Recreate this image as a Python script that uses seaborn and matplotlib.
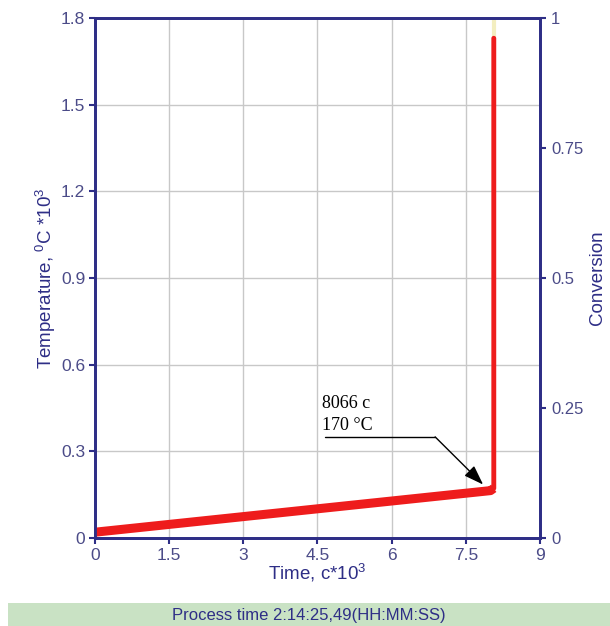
import matplotlib
matplotlib.use("Agg")
import matplotlib.pyplot as plt
import seaborn as sns
import pandas as pd

sns.set_theme(style="white")
plt.rcParams['font.family'] = ['Liberation Sans Narrow', 'Liberation Sans', 'DejaVu Sans']
plt.rcParams['mathtext.fontset'] = 'custom'
plt.rcParams['mathtext.rm'] = 'Liberation Sans'

# Data (time in s*10^3, temperature in °C*10^3)
time = [0.0, 1.0, 2.0, 3.0, 4.0, 5.0, 6.0, 7.0, 7.5, 8.0, 8.066, 8.066]
temperature = [0.020, 0.038, 0.056, 0.074, 0.092, 0.110, 0.128, 0.146, 0.155, 0.164, 0.172, 1.73]
x_ticks = [0, 1.5, 3, 4.5, 6, 7.5, 9]
y_ticks = [0, 0.3, 0.6, 0.9, 1.2, 1.5, 1.8]
y_tick_labels = ["0", "0.3", "0.6", "0.9", "1.2", "1.5", "1.8"]
conv_ticks = [0, 0.25, 0.5, 0.75, 1]
conv_labels = ["0", "0.25", "0.5", "0.75", "1"]
annot_time = 8066
annot_temp = 170

navy = "#2e2e86"
tick_col = "#4b4b88"

df = pd.DataFrame({"time": time, "temperature": temperature})
df_low = df.iloc[:-1]

fig = plt.figure(figsize=(6.10, 6.26), dpi=100)
fig.patch.set_facecolor("white")
ax = fig.add_axes([0.1557, 0.1406, 0.7295, 0.8306])

sns.lineplot(data=df, x="time", y="temperature", ax=ax, color="#ee1c1c", lw=3.5,
             sort=False, estimator=None, zorder=3)
sns.lineplot(data=df_low, x="time", y="temperature", ax=ax, color="#ee1c1c", lw=6.5,
             sort=False, estimator=None, solid_capstyle="butt", zorder=3)
ax.plot([time[-1], time[-1]], [temperature[-1], 1.8], color="#f3eec0", lw=3, zorder=2)

ax.set_xlim(0, 9)
ax.set_ylim(0, 1.8)
ax.set_xticks(x_ticks)
ax.set_xticklabels([f"{t:g}" for t in x_ticks])
ax.set_yticks(y_ticks)
ax.set_yticklabels(y_tick_labels)
ax.grid(True, color="#c8c8c8", lw=1)
ax.set_axisbelow(True)

for s in ax.spines.values():
    s.set_color(navy)
    s.set_linewidth(2)

ax.tick_params(axis="both", direction="out", length=4, width=1.5, color=navy,
               labelcolor=tick_col, labelsize=12.5, bottom=True, left=True, pad=3)

ax.set_xlabel("Time, c*10$^{3}$", color=navy, fontsize=13.5, labelpad=-1)
ax.set_ylabel("Temperature, $^{0}$C *10$^{3}$", color=navy, fontsize=13.5, labelpad=2)

ax2 = ax.twinx()
ax2.set_ylim(0, 1)
ax2.set_yticks(conv_ticks)
ax2.set_yticklabels(conv_labels)
ax2.tick_params(axis="y", direction="out", length=4, width=1.5, color=navy,
                labelcolor=tick_col, labelsize=12, right=True, pad=4)
for s in ax2.spines.values():
    s.set_color(navy)
    s.set_linewidth(2)
ax2.set_ylabel("Conversion", color=navy, fontsize=13.5, labelpad=4)
ax2.grid(False)

# Annotation
ax.text(4.6, 0.435, f"{annot_time} c", family="Liberation Serif", fontsize=13, color="black",
        ha="left", va="bottom")
ax.text(4.6, 0.36, f"{annot_temp} °C", family="Liberation Serif", fontsize=13, color="black",
        ha="left", va="bottom")
ax.plot([4.66, 6.88], [0.35, 0.35], color="black", lw=1, zorder=4)
ax.annotate("", xy=(7.85, 0.185), xytext=(6.88, 0.35),
            arrowprops=dict(arrowstyle="-|>,head_length=1.0,head_width=0.35",
                            color="black", lw=1, shrinkA=0, shrinkB=0), zorder=4)

# Bottom status bar
bar = fig.add_axes([0.013, 0.0, 0.987, 0.037])
bar.set_facecolor("#c9e2c4")
bar.set_xticks([])
bar.set_yticks([])
for s in bar.spines.values():
    s.set_visible(False)
bar.text(0.5, 0.45, "Process time 2:14:25,49(HH:MM:SS)", ha="center", va="center",
         color=navy, fontsize=12, transform=bar.transAxes)

fig.savefig("out.png", dpi=100)
